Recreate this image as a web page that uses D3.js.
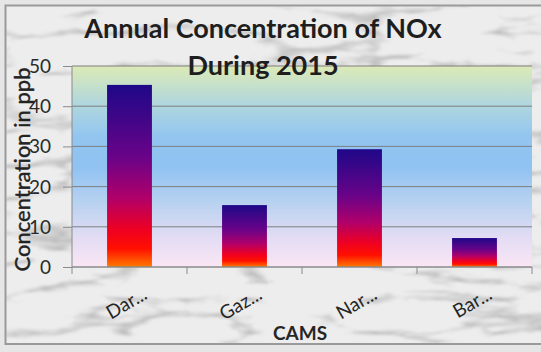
<!DOCTYPE html>
<html>
<head>
<meta charset="utf-8">
<script src="https://cdn.jsdelivr.net/npm/d3@7"></script>
<style>
  html, body { margin: 0; padding: 0; background: #ffffff; }
  svg { display: block; }
</style>
</head>
<body>
<div id="chart"></div>
<script>
// Annual NOx concentration per CAMS station, 2015
const categories = ["Dar...", "Gaz...", "Nar...", "Bar..."];
const values = [45.3, 15.4, 29.3, 7.2];
const yTicks = [0, 10, 20, 30, 40, 50];
const titleLines = ["Annual Concentration of NOx", "During 2015"];
const xTitle = "CAMS";
const yTitle = "Concentration in ppb";

const W = 541, H = 352;
const margin = { left: 72, right: 9, top: 66, bottom: 85 };
const plotW = W - margin.left - margin.right;
const plotH = H - margin.top - margin.bottom;
const font = "Lato, 'Open Sans', sans-serif";

const svg = d3.select("#chart").append("svg")
  .attr("width", W).attr("height", H);

const defs = svg.append("defs");

// marble-like veins for the chart frame
const marble = defs.append("filter").attr("id", "marble")
  .attr("x", 0).attr("y", 0).attr("width", "100%").attr("height", "100%");
marble.append("feTurbulence")
  .attr("type", "turbulence")
  .attr("baseFrequency", "0.008 0.03")
  .attr("numOctaves", 4).attr("seed", 11).attr("result", "noise");
marble.append("feColorMatrix").attr("in", "noise").attr("type", "matrix")
  .attr("values", "0 0 0 0 0  0 0 0 0 0  0 0 0 0 0  -2.2 0 0 0 0.55")
  .attr("result", "veins");
marble.append("feFlood").attr("flood-color", "#8c8c8c").attr("result", "grey");
marble.append("feComposite").attr("in", "grey").attr("in2", "veins")
  .attr("operator", "in").attr("result", "greyVeins");
marble.append("feGaussianBlur").attr("in", "greyVeins").attr("stdDeviation", 1.2);

// plot-area background gradient
const plotGrad = defs.append("linearGradient").attr("id", "plotBg")
  .attr("x1", 0).attr("y1", 0).attr("x2", 0).attr("y2", 1);
[["0%", "#dceab6"], ["18%", "#b2d8dc"], ["35%", "#93c5f0"], ["50%", "#90c2f2"],
 ["68%", "#b8d2f0"], ["85%", "#e2dcf4"], ["100%", "#fae6f4"]]
  .forEach(([o, c]) => plotGrad.append("stop").attr("offset", o).attr("stop-color", c));

// bar fill gradient: navy at top through purple and red to orange at base
const barGrad = defs.append("linearGradient").attr("id", "barFill")
  .attr("x1", 0).attr("y1", 0).attr("x2", 0).attr("y2", 1);
[["0%", "#1e0888"], ["40%", "#6a0388"], ["62%", "#b0006a"], ["80%", "#f00020"],
 ["90%", "#ff1000"], ["100%", "#ff7a00"]]
  .forEach(([o, c]) => barGrad.append("stop").attr("offset", o).attr("stop-color", c));

// frame
svg.append("rect").attr("x", 0).attr("y", 0).attr("width", W).attr("height", H)
  .attr("fill", "#e6e6e6");
svg.append("rect").attr("x", 6).attr("y", 5).attr("width", W).attr("height", 339)
  .attr("fill", "#ededed");
svg.append("rect").attr("x", 6).attr("y", 5).attr("width", W).attr("height", 339)
  .attr("filter", "url(#marble)").attr("fill", "#ededed");
svg.append("rect").attr("x", 5.5).attr("y", 5.5).attr("width", W).attr("height", 338.5)
  .attr("fill", "none").attr("stroke", "#9a9a9a").attr("stroke-width", 2);

const g = svg.append("g").attr("transform", `translate(${margin.left},${margin.top})`);

const x = d3.scaleBand().domain(categories).range([0, plotW]).paddingInner(0.61).paddingOuter(0.305);
const y = d3.scaleLinear().domain([0, 50]).range([plotH, 0]);

g.append("rect").attr("width", plotW).attr("height", plotH).attr("fill", "url(#plotBg)");

// gridlines
g.append("g").selectAll("line").data(yTicks.filter(t => t > 0)).join("line")
  .attr("x1", 0).attr("x2", plotW)
  .attr("y1", d => y(d)).attr("y2", d => y(d))
  .attr("stroke", "#7f7f7f").attr("stroke-width", 1);

// bars
g.append("g").selectAll("rect").data(values).join("rect")
  .attr("x", (d, i) => x(categories[i]))
  .attr("y", d => y(d))
  .attr("width", x.bandwidth())
  .attr("height", d => plotH - y(d))
  .attr("fill", "url(#barFill)");

// y axis
const yAxis = g.append("g")
  .call(d3.axisLeft(y).tickValues(yTicks).tickSize(9).tickPadding(12).tickFormat(d3.format("d")));
yAxis.select(".domain").attr("stroke", "#8a8a8a").attr("d", `M0,0V${plotH}`);
yAxis.selectAll(".tick line").attr("stroke", "#8a8a8a");
yAxis.selectAll(".tick text").attr("font-family", font).attr("font-size", 19)
  .attr("fill", "#2a2a2a").attr("dy", "0.34em");

// x axis with ticks at category boundaries
const xAxis = g.append("g").attr("transform", `translate(0,${plotH})`);
xAxis.append("line").attr("x1", 0).attr("x2", plotW).attr("stroke", "#8a8a8a").attr("stroke-width", 1.5);
const step = x.step();
xAxis.selectAll("line.b").data(d3.range(categories.length + 1)).join("line")
  .attr("class", "b")
  .attr("x1", i => i * step).attr("x2", i => i * step)
  .attr("y1", 0).attr("y2", 7).attr("stroke", "#8a8a8a");
xAxis.selectAll("text").data(categories).join("text")
  .attr("transform", d => `translate(${x(d) + x.bandwidth() / 2 + 19},${31}) rotate(-30)`)
  .attr("text-anchor", "end")
  .attr("font-family", font).attr("font-size", 19).attr("fill", "#262626")
  .text(d => d);

// axis titles
svg.append("text").attr("x", margin.left + plotW / 2 - 2).attr("y", 340)
  .attr("text-anchor", "middle").attr("font-family", font).attr("font-weight", "bold")
  .attr("font-size", 19).attr("fill", "#262626").text(xTitle);
svg.append("text")
  .attr("transform", `translate(30,${margin.top + plotH / 2 + 3}) rotate(-90)`)
  .attr("text-anchor", "middle").attr("font-family", font)
  .attr("font-size", 22).attr("fill", "#222222")
  .attr("stroke", "#222222").attr("stroke-width", 0.4).text(yTitle);

// chart title
svg.append("g").selectAll("text").data(titleLines).join("text")
  .attr("x", 263).attr("y", (d, i) => 38 + i * 37)
  .attr("text-anchor", "middle").attr("font-family", font).attr("font-weight", "bold")
  .attr("font-size", 27).attr("fill", "#1e1e1e").text(d => d);
</script>
</body>
</html>
